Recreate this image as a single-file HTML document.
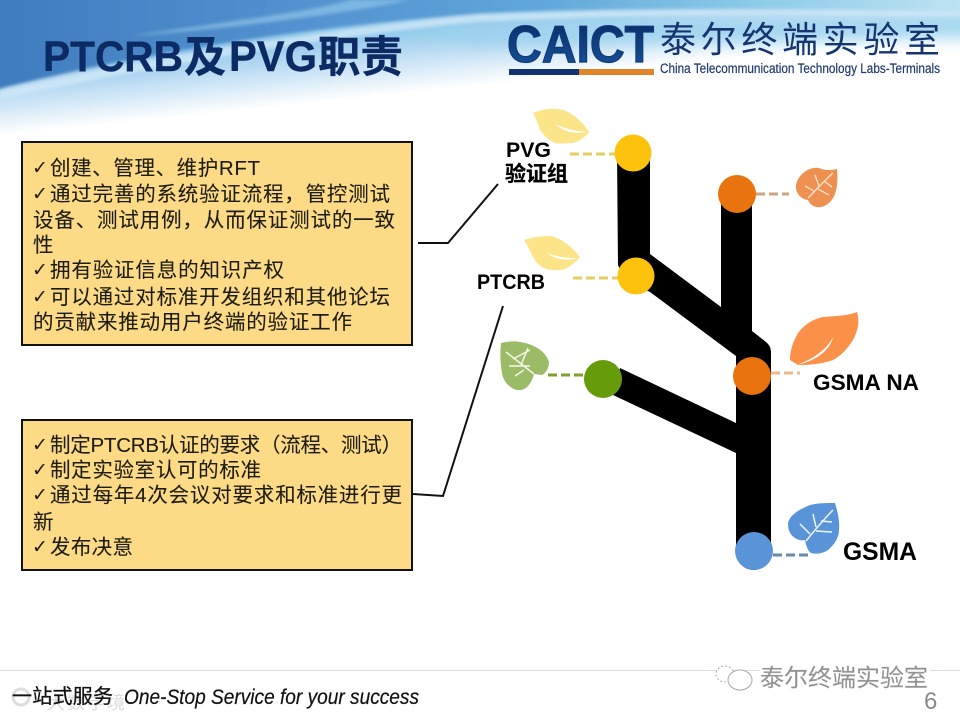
<!DOCTYPE html>
<html><head><meta charset="utf-8"><style>
html,body{margin:0;padding:0;background:#fff}
svg{display:block}
text{font-family:"Liberation Sans","Noto Sans CJK SC",sans-serif}
.b{font-size:20.5px;fill:#1c1c12;stroke:#1c1c12;stroke-width:.1}
.c{font-family:"DejaVu Sans",sans-serif;font-size:19px;font-weight:bold;fill:#1c1c12}
.l{font-weight:bold;fill:#000}
.t{font-weight:bold;font-size:43px;fill:#0c2a63;stroke:#0c2a63;stroke-width:.4}
</style></head><body>
<svg width="960" height="720" viewBox="0 0 960 720" xmlns="http://www.w3.org/2000/svg">
<defs>
<linearGradient id="g1" x1="0" y1="0" x2="1" y2="0"><stop offset="0" stop-color="#3f7cbe"/><stop offset=".3" stop-color="#5290cf"/><stop offset=".55" stop-color="#5ea6da"/><stop offset=".78" stop-color="#8ccbe8"/><stop offset="1" stop-color="#bfe4f3"/></linearGradient>
<linearGradient id="g2" gradientUnits="userSpaceOnUse" x1="0" y1="70" x2="6.8" y2="135"><stop offset="0" stop-color="#8cc6ea"/><stop offset=".5" stop-color="#c8e2f5"/><stop offset="1" stop-color="#ffffff"/></linearGradient>
<linearGradient id="g3" x1="0" y1="0" x2="0" y2="1"><stop offset="0" stop-color="#0a2a63"/><stop offset="1" stop-color="#17569e"/></linearGradient>
<filter id="s"><feGaussianBlur stdDeviation="1.5"/></filter>
<filter id="s2" x="-10%" y="-100%" width="120%" height="300%"><feGaussianBlur stdDeviation="7"/></filter>
</defs>
<rect width="960" height="720" fill="#fff"/>
<rect width="960" height="140" fill="url(#g2)"/>
<path d="M380,30L980,12V38L480,46Z" fill="#9ad3ee" opacity=".85" filter="url(#s2)"/>
<g filter="url(#s)">
<path d="M-5,-5H970V12C800,8 640,6 480,14C330,24 150,50 -5,90Z" fill="url(#g1)"/>
<path d="M0,91C120,62 300,32 480,14C640,8 800,10 960,12V16C800,14 640,14 480,22C320,36 130,72 0,99Z" fill="#cfe8f7" opacity=".8"/>
<path d="M130,36C230,22 320,10 350,0H410C330,16 230,28 130,36Z" fill="#8cc4ea" opacity=".7"/>
</g>
<text class="t" x="43" y="71" textLength="140" lengthAdjust="spacingAndGlyphs">PTCRB</text>
<text class="t" x="184" y="72" textLength="42" lengthAdjust="spacingAndGlyphs">及</text>
<text class="t" x="229" y="71" textLength="88" lengthAdjust="spacingAndGlyphs">PVG</text>
<text class="t" x="318" y="72" textLength="85" lengthAdjust="spacingAndGlyphs">职责</text>

<text x="507" y="62" font-size="52" font-weight="bold" fill="url(#g3)" textLength="147" lengthAdjust="spacingAndGlyphs" stroke="#0f3a7c" stroke-width="1.2">CAICT</text>
<rect x="509" y="69" width="70" height="6" fill="#12336f"/>
<rect x="579" y="69" width="75" height="6" fill="#e0842a"/>
<text x="660" y="52" font-size="36" fill="#16346f" textLength="280" style='font-family:"Noto Sans CJK SC",sans-serif'>泰尔终端实验室</text>
<text x="660" y="73" font-size="13.5" fill="#1f3a6e" stroke="#1f3a6e" stroke-width=".2" textLength="280" lengthAdjust="spacingAndGlyphs">China Telecommunication Technology Labs-Terminals</text>

<rect x="22" y="142" width="390" height="203" fill="#fdda85" stroke="#111" stroke-width="2"/>
<text class="c" x="32" y="174">✓</text><text class="b" x="50" y="175" textLength="210">创建、管理、维护RFT</text>
<text class="c" x="32" y="200">✓</text><text class="b" x="50" y="201" textLength="340">通过完善的系统验证流程，管控测试</text>
<text class="b" x="33" y="227" textLength="362">设备、测试用例，从而保证测试的一致</text>
<text class="b" x="33" y="252">性</text>
<text class="c" x="32" y="276">✓</text><text class="b" x="50" y="277" textLength="234">拥有验证信息的知识产权</text>
<text class="c" x="32" y="303">✓</text><text class="b" x="50" y="304" textLength="340">可以通过对标准开发组织和其他论坛</text>
<text class="b" x="33" y="329" textLength="319">的贡献来推动用户终端的验证工作</text>

<rect x="22" y="420" width="390" height="150" fill="#fdda85" stroke="#111" stroke-width="2"/>
<text class="c" x="32" y="451">✓</text><text class="b" x="50" y="452" textLength="352">制定PTCRB认证的要求（流程、测试）</text>
<text class="c" x="32" y="476">✓</text><text class="b" x="50" y="477" textLength="211">制定实验室认可的标准</text>
<text class="c" x="32" y="501">✓</text><text class="b" x="50" y="502" textLength="352">通过每年4次会议对要求和标准进行更</text>
<text class="b" x="33" y="529">新</text>
<text class="c" x="32" y="553">✓</text><text class="b" x="50" y="554" textLength="83">发布决意</text>

<path d="M418,243H448L498,184" fill="none" stroke="#111" stroke-width="2"/>
<path d="M413,494L443,496L503,306" fill="none" stroke="#111" stroke-width="2"/>

<!-- tree -->
<path d="M617,153H650V254L721,307V193H752V331L766,342Q771,346 771,352V552A17.5,18 0 0 1 736,552V453L613,395L620,368L736,423V356L650,292L625,280L618,265Z" fill="#000"/>

<g fill="none" stroke-width="3" stroke-dasharray="9 4">
<path d="M570,154H616" stroke="#e4cf62"/>
<path d="M573,278H618" stroke="#e4cf62"/>
<path d="M756,194H789" stroke="#c9a67f"/>
<path d="M548,375H586" stroke="#7f9f30"/>
<path d="M771,373H800" stroke="#ecb78c"/>
<path d="M773,555H808" stroke="#6a8aa8"/>
</g>
<circle cx="633" cy="153" r="18.5" fill="#fcc20c"/>
<circle cx="636" cy="276" r="18.5" fill="#fcc20c"/>
<circle cx="737" cy="194" r="19" fill="#e8730f"/>
<circle cx="752" cy="376" r="19" fill="#e8730f"/>
<circle cx="603" cy="379" r="19" fill="#669c0c"/>
<circle cx="754" cy="551" r="19" fill="#5a94d8"/>

<!-- leaves -->
<path d="M533,113C545,108 555,108 563,110C575,114 584,124 589,132C586,136 583,138 580,140C575,143 572,143 570,143C562,144 557,144 553,142C547,139 543,134 540,130C538,124 536,118 533,113Z" fill="#fbe588"/>
<path d="M555,124C565,129 576,131 587,132C575,134 564,132 555,124Z" fill="#fff"/>
<path d="M524,240C533,237 542,236 550,236C562,238 574,249 580,257C577,261 573,264 570,266C565,270 561,270 557,270C549,271 542,268 537,263C532,257 529,247 524,240Z" fill="#fbe588"/>
<path d="M547,253C557,257 567,258 578,258C567,261 556,260 547,253Z" fill="#fff"/>
<path d="M837,169C838,180 838,195 829,203C822,209 812,209 808,200C800,199 795,192 796,185C798,174 810,166 819,168C826,171 832,170 837,169Z" fill="#ee9150"/>
<path d="M808,198C815,191 824,181 833,173M814,191L805,186M819,186L815,175M824,181L832,187M818,189L829,195" stroke="#fde9d8" stroke-width="1.2" fill="none"/>
<path d="M857,312C860,322 858,330 853,340C846,351 840,356 833,360C822,364 810,365 798,365L790,360C790,350 793,342 798,333C805,324 813,319 823,317C835,316 847,316 857,312Z" fill="#fb9048"/>
<path d="M797,365C815,358 827,349 833,337C830,351 815,361 797,365Z" fill="#fff"/>
<path d="M501,343C510,341 515,341 520,342C535,344 546,352 549,362C549,368 546,373 542,375L534,374C532,382 527,390 520,390C512,391 503,382 502,373C500,362 500,352 501,343Z" fill="#9cbb66"/>
<path d="M506,352L534,374M513,359L530,350M521,365L528,348M509,366L530,366M524,370L515,376" stroke="#f4f8ea" stroke-width="1.5" fill="none"/>
<path d="M835,503C825,503 818,503 810,505C798,510 790,515 788,523C788,530 790,535 795,538C798,540 802,541 805,540C806,546 808,551 811,553C819,555 825,552 828,550C834,545 839,538 839,530C840,520 837,510 835,503Z" fill="#5a94d8"/>
<path d="M806,541C815,530 825,518 833,510M810,534L800,524M816,527L813,514M821,521L832,522M816,531L832,532" stroke="#f0f6fd" stroke-width="1.5" fill="none"/>

<text class="l" x="506" y="157" font-size="21" textLength="45" lengthAdjust="spacingAndGlyphs">PVG</text>
<text class="l" x="505" y="181" font-size="21" textLength="63" stroke="#000" stroke-width=".3">验证组</text>
<text class="l" x="477" y="289" font-size="21.5" textLength="68" lengthAdjust="spacingAndGlyphs">PTCRB</text>
<text class="l" x="813" y="390" font-size="22" textLength="106" lengthAdjust="spacingAndGlyphs">GSMA NA</text>
<text class="l" x="843" y="560" font-size="25" textLength="74" lengthAdjust="spacingAndGlyphs">GSMA</text>

<!-- footer -->
<rect x="0" y="670" width="960" height="1" fill="#dcdce2"/>
<g fill="none" stroke="#ddd" stroke-width="3"><circle cx="21" cy="697" r="8"/></g>
<text x="47" y="709" font-size="18" fill="#dcdcdc" textLength="78">大数学境</text>
<text x="12" y="703" font-size="20" fill="#111" stroke="#111" stroke-width=".3" textLength="101">一站式服务</text>
<text x="124" y="704" font-size="21" font-style="italic" fill="#111" stroke="#111" stroke-width=".2" textLength="295" lengthAdjust="spacingAndGlyphs">One-Stop Service for your success</text>
<g fill="#fff" stroke="#aaa" stroke-width="1">
<ellipse cx="725" cy="674" rx="9" ry="8" stroke-dasharray="2 2"/>
<ellipse cx="740" cy="680" rx="12" ry="10"/>
</g>
<rect x="760" y="664" width="170" height="26" fill="#fff"/>
<text x="760" y="686" font-size="24" fill="#8f8f8f" textLength="168" stroke="#bbb" stroke-width=".3">泰尔终端实验室</text>
<text x="924" y="709" font-size="24" fill="#8a8a8a">6</text>
</svg>
</body></html>
